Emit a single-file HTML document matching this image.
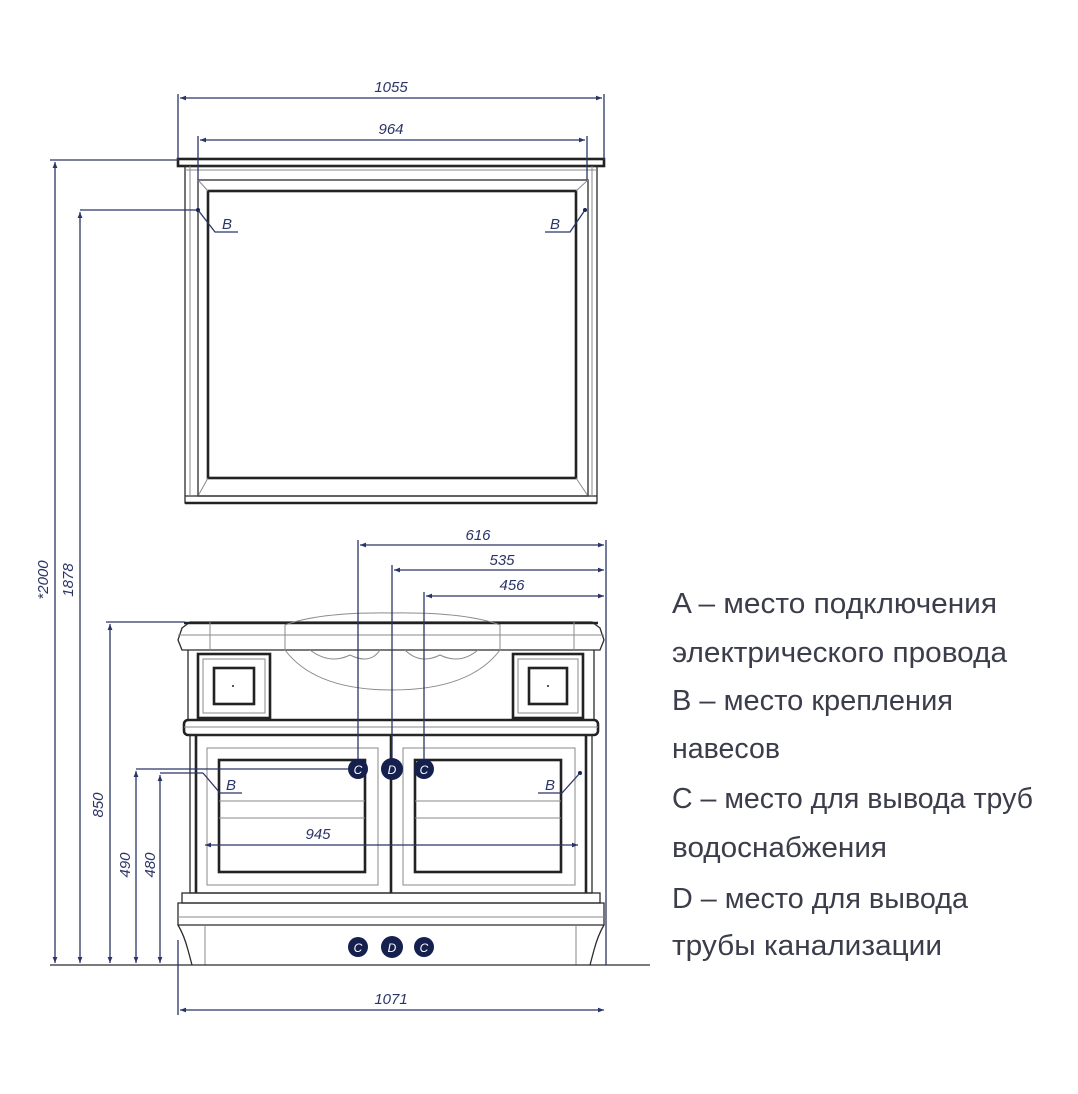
<!DOCTYPE html>
<html><head><meta charset="utf-8"><style>
html,body{margin:0;padding:0;background:#fff;}
svg{display:block}
.d{stroke:#2a3566;stroke-width:1.3;fill:none}
.k{stroke:#2b2b2b;fill:none;stroke-width:1.3}
.kt{stroke:#222;fill:none;stroke-width:2.6}
.g{stroke:#8a8a8a;fill:none;stroke-width:1}
.lbl{font-family:"Liberation Sans",sans-serif;font-style:italic;font-size:15px;fill:#2a3566}
.txt{font-family:"Liberation Sans","Noto Sans CJK SC",sans-serif;font-size:29px;fill:#3b3d4a}
.c{fill:#15204f}
.ct{font-family:"Liberation Sans",sans-serif;font-style:italic;font-size:12px;fill:#fff;text-anchor:middle}
</style></head><body>
<svg width="1078" height="1094" viewBox="0 0 1078 1094" xmlns="http://www.w3.org/2000/svg">
<defs>
<marker id="a" viewBox="0 0 10 10" refX="10" refY="5" markerWidth="10" markerHeight="6" orient="auto-start-reverse" markerUnits="userSpaceOnUse"><path d="M0,1 L10,5 L0,9z" fill="#2a3566"/></marker>
</defs>

<!-- MIRROR -->
<rect x="178" y="159" width="426" height="7" class="kt"/>
<rect x="185" y="166" width="412" height="337" class="k"/>
<line x1="185" y1="170" x2="597" y2="170" class="g"/>
<rect x="198" y="180" width="390" height="316" class="k"/>
<rect x="208" y="191" width="368" height="287" class="kt"/>
<line x1="198" y1="180" x2="208" y2="191" class="g"/>
<line x1="588" y1="180" x2="576" y2="191" class="g"/>
<line x1="198" y1="496" x2="208" y2="478" class="g"/>
<line x1="588" y1="496" x2="576" y2="478" class="g"/>
<line x1="185" y1="496" x2="597" y2="496" class="k"/>
<line x1="185" y1="503" x2="597" y2="503" class="kt"/>
<line x1="190" y1="166" x2="190" y2="496" class="g"/>
<line x1="592" y1="166" x2="592" y2="496" class="g"/>

<!-- mirror dims -->
<line x1="178" y1="94" x2="178" y2="160" class="d"/>
<line x1="604" y1="94" x2="604" y2="160" class="d"/>
<line x1="180" y1="98" x2="602" y2="98" class="d" marker-start="url(#a)" marker-end="url(#a)"/>
<text x="391" y="92" class="lbl" text-anchor="middle">1055</text>
<line x1="198" y1="136" x2="198" y2="180" class="d"/>
<line x1="587" y1="136" x2="587" y2="180" class="d"/>
<line x1="200" y1="140" x2="585" y2="140" class="d" marker-start="url(#a)" marker-end="url(#a)"/>
<text x="391" y="134" class="lbl" text-anchor="middle">964</text>
<!-- B mirror -->
<line x1="80" y1="210" x2="198" y2="210" class="d"/>
<circle cx="198" cy="210" r="2" class="c"/>
<polyline points="198,210 215,232 238,232" class="d"/>
<text x="222" y="229" class="lbl">B</text>
<circle cx="585" cy="210" r="2" class="c"/>
<polyline points="585,210 570,232 545,232" class="d"/>
<text x="550" y="229" class="lbl">B</text>

<!-- VANITY -->
<path d="M182,628 L190,622 L592,622 L600,628 L604,640 L600,650 L182,650 L178,640z" class="k"/>
<line x1="184" y1="623" x2="598" y2="623" class="kt"/>
<line x1="178" y1="635" x2="604" y2="635" class="g"/>
<line x1="210" y1="622" x2="210" y2="650" class="g"/>
<line x1="574" y1="622" x2="574" y2="650" class="g"/>
<path d="M285,625 Q320,612 392,613 Q465,612 500,625 L500,650 Q470,690 392,690 Q315,690 285,650z" class="g"/>
<path d="M310,650 Q330,665 350,655 Q370,665 380,650 M405,650 Q420,665 440,655 Q460,665 478,650" class="g"/>
<line x1="188" y1="650" x2="188" y2="720" class="k"/>
<line x1="594" y1="650" x2="594" y2="720" class="k"/>
<rect x="198" y="654" width="72" height="64" class="kt"/>
<rect x="203" y="659" width="62" height="54" class="g"/>
<rect x="214" y="668" width="40" height="36" class="kt"/>
<circle cx="233" cy="686" r="1" class="c"/>
<rect x="513" y="654" width="70" height="64" class="kt"/>
<rect x="518" y="659" width="60" height="54" class="g"/>
<rect x="529" y="668" width="38" height="36" class="kt"/>
<circle cx="548" cy="686" r="1" class="c"/>
<rect x="184" y="720" width="414" height="15" class="kt" rx="4"/>
<line x1="184" y1="727" x2="598" y2="727" class="g"/>
<rect x="190" y="735" width="402" height="158" class="k"/>
<line x1="196" y1="735" x2="196" y2="893" class="kt"/>
<line x1="586" y1="735" x2="586" y2="893" class="kt"/>
<rect x="207" y="748" width="171" height="137" class="g"/>
<rect x="219" y="760" width="146" height="112" class="kt"/>
<rect x="403" y="748" width="172" height="137" class="g"/>
<rect x="415" y="760" width="146" height="112" class="kt"/>
<line x1="391" y1="735" x2="391" y2="893" class="kt"/>
<line x1="219" y1="801" x2="365" y2="801" class="g"/>
<line x1="219" y1="818" x2="365" y2="818" class="g"/>
<line x1="415" y1="801" x2="561" y2="801" class="g"/>
<line x1="415" y1="818" x2="561" y2="818" class="g"/>
<rect x="182" y="893" width="418" height="10" class="k"/>
<path d="M178,903 L604,903 L604,925 L178,925z" class="k"/>
<line x1="178" y1="917" x2="604" y2="917" class="g"/>
<path d="M178,925 Q184,935 188,950 L192,965 M604,925 Q598,935 594,950 L590,965" class="k"/>
<line x1="205" y1="925" x2="205" y2="965" class="g"/>
<line x1="576" y1="925" x2="576" y2="965" class="g"/>
<line x1="50" y1="965" x2="650" y2="965" class="k"/>

<!-- pipe dims -->
<line x1="358" y1="540" x2="358" y2="769" class="d"/>
<line x1="392" y1="565" x2="392" y2="769" class="d"/>
<line x1="424" y1="592" x2="424" y2="769" class="d"/>
<line x1="606" y1="540" x2="606" y2="965" class="d"/>
<line x1="360" y1="545" x2="604" y2="545" class="d" marker-start="url(#a)" marker-end="url(#a)"/>
<line x1="394" y1="570" x2="604" y2="570" class="d" marker-start="url(#a)" marker-end="url(#a)"/>
<line x1="426" y1="596" x2="604" y2="596" class="d" marker-start="url(#a)" marker-end="url(#a)"/>
<text x="478" y="540" class="lbl" text-anchor="middle">616</text>
<text x="502" y="565" class="lbl" text-anchor="middle">535</text>
<text x="512" y="590" class="lbl" text-anchor="middle">456</text>

<g>
<circle cx="358" cy="769" r="10" class="c"/><text x="358" y="774" class="ct">C</text>
<circle cx="392" cy="769" r="11" class="c"/><text x="392" y="774" class="ct">D</text>
<circle cx="424" cy="769" r="10" class="c"/><text x="424" y="774" class="ct">C</text>
<circle cx="358" cy="947" r="10" class="c"/><text x="358" y="952" class="ct">C</text>
<circle cx="392" cy="947" r="11" class="c"/><text x="392" y="952" class="ct">D</text>
<circle cx="424" cy="947" r="10" class="c"/><text x="424" y="952" class="ct">C</text>
</g>

<!-- B vanity -->
<line x1="136" y1="769" x2="348" y2="769" class="d"/>
<line x1="160" y1="773" x2="203" y2="773" class="d"/>
<polyline points="203,773 220,793 242,793" class="d"/>
<text x="226" y="790" class="lbl">B</text>
<circle cx="580" cy="773" r="2" class="c"/>
<polyline points="580,773 562,793 538,793" class="d"/>
<text x="545" y="790" class="lbl">B</text>
<!-- 945 -->
<line x1="205" y1="845" x2="578" y2="845" class="d" marker-start="url(#a)" marker-end="url(#a)"/>
<text x="318" y="839" class="lbl" text-anchor="middle">945</text>
<!-- 1071 -->
<line x1="178" y1="940" x2="178" y2="1015" class="d"/>
<line x1="180" y1="1010" x2="604" y2="1010" class="d" marker-start="url(#a)" marker-end="url(#a)"/>
<text x="391" y="1004" class="lbl" text-anchor="middle">1071</text>

<!-- left vertical dims -->
<line x1="50" y1="160" x2="178" y2="160" class="d"/>
<line x1="55" y1="162" x2="55" y2="963" class="d" marker-start="url(#a)" marker-end="url(#a)"/>
<line x1="80" y1="212" x2="80" y2="963" class="d" marker-start="url(#a)" marker-end="url(#a)"/>
<line x1="106" y1="622" x2="185" y2="622" class="d"/>
<line x1="110" y1="624" x2="110" y2="963" class="d" marker-start="url(#a)" marker-end="url(#a)"/>
<line x1="136" y1="771" x2="136" y2="963" class="d" marker-start="url(#a)" marker-end="url(#a)"/>
<line x1="160" y1="775" x2="160" y2="963" class="d" marker-start="url(#a)" marker-end="url(#a)"/>
<text transform="translate(48,580) rotate(-90)" class="lbl" text-anchor="middle">*2000</text>
<text transform="translate(73,580) rotate(-90)" class="lbl" text-anchor="middle">1878</text>
<text transform="translate(103,805) rotate(-90)" class="lbl" text-anchor="middle">850</text>
<text transform="translate(130,865) rotate(-90)" class="lbl" text-anchor="middle">490</text>
<text transform="translate(155,865) rotate(-90)" class="lbl" text-anchor="middle">480</text>

<!-- legend -->
<text x="672" y="613" class="txt" textLength="325" lengthAdjust="spacingAndGlyphs">A – место подключения</text>
<text x="672" y="662" class="txt" textLength="335" lengthAdjust="spacingAndGlyphs">электрического провода</text>
<text x="672" y="710" class="txt" textLength="281" lengthAdjust="spacingAndGlyphs">B – место крепления</text>
<text x="672" y="758" class="txt" textLength="108" lengthAdjust="spacingAndGlyphs">навесов</text>
<text x="672" y="808" class="txt" textLength="361" lengthAdjust="spacingAndGlyphs">C – место для вывода труб</text>
<text x="672" y="857" class="txt" textLength="215" lengthAdjust="spacingAndGlyphs">водоснабжения</text>
<text x="672" y="908" class="txt" textLength="296" lengthAdjust="spacingAndGlyphs">D – место для вывода</text>
<text x="672" y="955" class="txt" textLength="270" lengthAdjust="spacingAndGlyphs">трубы канализации</text>
</svg>
</body></html>
